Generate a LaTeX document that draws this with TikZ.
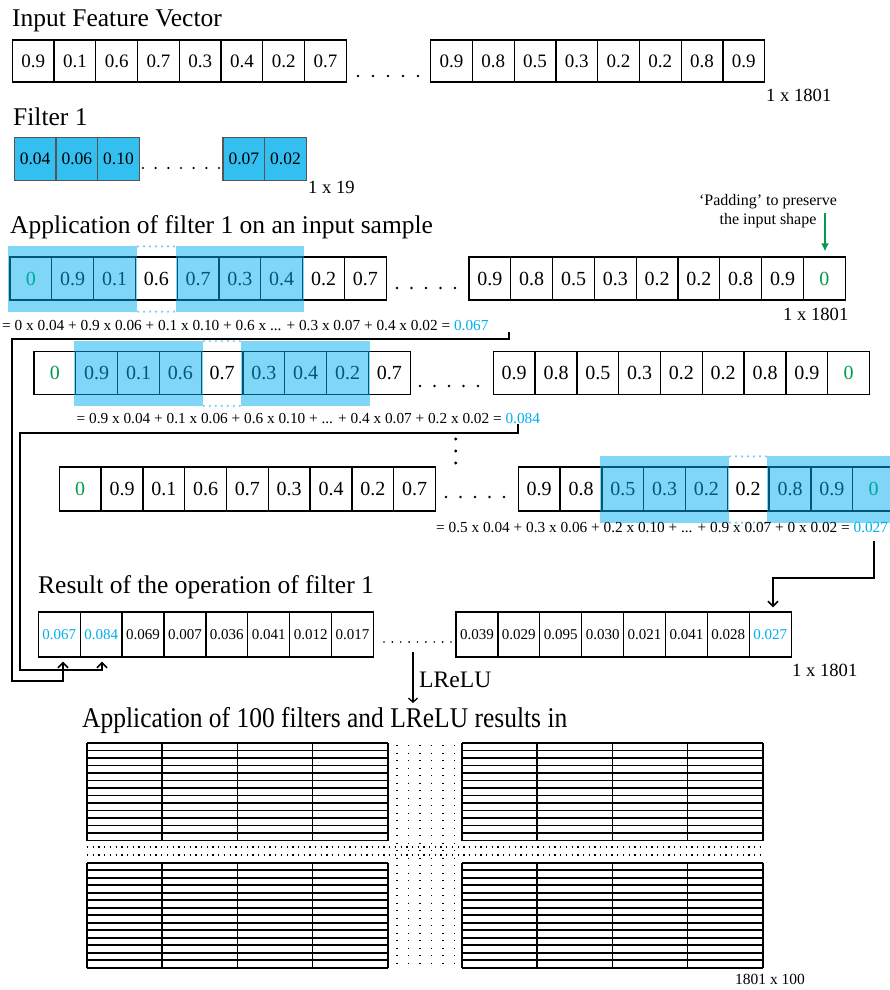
\documentclass[tikz,border=0pt]{standalone}
\usepackage{fontspec}
\setmainfont{Liberation Serif}
\usetikzlibrary{arrows.meta,calc}
\definecolor{cyanfill}{RGB}{51,191,240}
\definecolor{hlfill}{RGB}{0,174,239}
\definecolor{valcyan}{RGB}{0,174,239}
\definecolor{padgreen}{RGB}{0,155,75}
\definecolor{fborder}{RGB}{85,85,85}
\definecolor{hldot}{RGB}{120,205,242}
\newcommand\fsz[1]{\fontsize{#1}{#1}\selectfont}
\newcommand\gz{\textcolor{padgreen}{0}}
\newcommand\cv[1]{\textcolor{valcyan}{#1}}
\newcommand\cellrow[7]{\foreach \v [count=\i] in {#7}{\node[#6, minimum width=#4pt, minimum height=#5pt] (#1\i) at ({#2+(\i-0.5)*#4},#3) {\v};}}
\newcommand\dotrow[5]{\foreach \k in {1,...,#4}{\fill ({#1+(\k-1)*(#2-#1)/(#4-1)},#3) circle (#5pt);}}
\newcommand\hlbox[2]{\fill[hlfill,opacity=0.5] ($(#1.north west)+(-1,-10)$) rectangle ($(#2.south east)+(1,11)$);}
\newcommand\hlgap[2]{\draw[hldots] ($(#1.north east)+(2,-10)$) -- ($(#2.north west)+(-2,-10)$);
  \draw[hldots] ($(#1.south east)+(2,11)$) -- ($(#2.south west)+(-2,11)$);}
\newcommand\gridblock[4]{%
  \foreach \c in {0,...,4}{\draw[gridline] ({#1+\c*75.2},#2) -- ({#1+\c*75.2},{#2+#3*#4});}
  \foreach \r in {0,...,#3}{\draw[gridline] (#1,{#2+\r*#4}) -- ({#1+300.8},{#2+\r*#4});}}
\tikzset{
  cellbase/.style={draw=black, line width=1.3pt, inner sep=0pt},
  cellone/.style={cellbase, font=\fsz{19}},
  cellrun/.style={cellbase, font=\fsz{20}},
  cellres/.style={cellbase, font=\fsz{15}},
  cellfilt/.style={draw=fborder, line width=1.2pt, fill=cyanfill, inner sep=0pt, font=\fsz{17.5}},
  title/.style={anchor=base west, inner sep=0pt, font=\fsz{25.5}},
  dimlabel/.style={anchor=west, inner sep=0pt, font=\fsz{18.6}},
  formula/.style={anchor=west, inner sep=0pt, font=\fsz{15.3}},
  hldots/.style={draw=hldot, line width=2.4pt, line cap=round, dash pattern=on 0pt off 6pt},
  conn/.style={draw=black, line width=2pt, -{Straight Barb[length=5pt,width=10pt,line width=1.6pt]}},
  gridline/.style={draw=black, line width=1.6pt},
}
\begin{document}
\begin{tikzpicture}[x=1pt,y=-1pt]
\clip (0,0) rectangle (890,990);
\fill[white] (0,0) rectangle (890,990);

% ---- Input feature vector
\node[title] (t1) at (12,27) {Input Feature Vector};
\cellrow{il}{12.3}{61}{41.75}{42}{cellone}{0.9,0.1,0.6,0.7,0.3,0.4,0.2,0.7}
\dotrow{358}{418}{76}{5}{1.3}
\cellrow{ir}{430.7}{61}{41.75}{42}{cellone}{0.9,0.8,0.5,0.3,0.2,0.2,0.8,0.9}
\node[dimlabel] (d1) at (766,95) {1 x 1801};

% ---- Filter 1
\node[title] (t2) at (13,125) {Filter 1};
\cellrow{fl}{14.3}{159}{41.7}{43.4}{cellfilt}{0.04,0.06,0.10}
\dotrow{143}{219}{168}{7}{1.2}
\cellrow{fr}{223}{159}{41.7}{43.4}{cellfilt}{0.07,0.02}
\node[dimlabel] (d2) at (308,187) {1 x 19};

% ---- Application of filter 1
\node[title] (t3) at (10,233) {Application of filter 1 on an input sample};
\cellrow{al}{10}{278.5}{41.8}{43}{cellrun}{\gz,0.9,0.1,0.6,0.7,0.3,0.4,0.2,0.7}
\dotrow{397}{455}{288}{5}{1.3}
\cellrow{ar}{469}{278.5}{41.8}{43}{cellrun}{0.9,0.8,0.5,0.3,0.2,0.2,0.8,0.9,\gz}
\hlbox{al1}{al3}\hlbox{al5}{al7}\hlgap{al3}{al5}
\node[dimlabel] (d3) at (783,314) {1 x 1801};
\node[formula] (fA) at (2,326) {= 0 x 0.04 + 0.9 x 0.06 + 0.1 x 0.10 + 0.6 x ... + 0.3 x 0.07 + 0.4 x 0.02 = \cv{0.067}};

% padding note
\node[inner sep=0pt, align=center, font=\fontsize{16}{19}\selectfont] (pad) at (768,211.5) {‘Padding’ to preserve\\the input shape};
\coordinate (pa) at (825,213);
\draw[padgreen, line width=2pt, -{Latex[length=8pt,width=8pt]}, shorten >=5pt] (pa) -- (pa |- ar9.north);

% ---- second position
\cellrow{bl}{34}{373}{41.8}{42.5}{cellrun}{\gz,0.9,0.1,0.6,0.7,0.3,0.4,0.2,0.7}
\dotrow{420}{478}{386}{5}{1.3}
\cellrow{br}{493.3}{373}{41.8}{42.5}{cellrun}{0.9,0.8,0.5,0.3,0.2,0.2,0.8,0.9,\gz}
\hlbox{bl2}{bl4}\hlbox{bl6}{bl8}\hlgap{bl4}{bl6}
\node[formula] (fB) at (76.5,419) {= 0.9 x 0.04 + 0.1 x 0.06 + 0.6 x 0.10 + ... + 0.4 x 0.07 + 0.2 x 0.02 = \cv{0.084}};

% vertical dots
\foreach \yy in {439,451,463}{\fill (455.7,\yy) circle (1.6pt);}

% ---- last position
\cellrow{cl}{59.3}{489}{41.8}{44}{cellrun}{\gz,0.9,0.1,0.6,0.7,0.3,0.4,0.2,0.7}
\dotrow{446}{504}{497}{5}{1.3}
\cellrow{cr}{518.3}{489}{41.8}{44}{cellrun}{0.9,0.8,0.5,0.3,0.2,0.2,0.8,0.9,\gz}
\hlbox{cr3}{cr5}\hlbox{cr7}{cr9}\hlgap{cr5}{cr7}
\node[formula] (fC) at (436,528) {= 0.5 x 0.04 + 0.3 x 0.06 + 0.2 x 0.10 + ... + 0.9 x 0.07 + 0 x 0.02 = \cv{0.027}};

% ---- result
\node[title] (t4) at (38,593) {Result of the operation of filter 1};
\cellrow{rl}{38.3}{634.5}{41.9}{45}{cellres}{\cv{0.067},\cv{0.084},0.069,0.007,0.036,0.041,0.012,0.017}
\dotrow{384}{451}{642}{9}{0.9}
\cellrow{rr}{456}{634.5}{41.9}{45}{cellres}{0.039,0.029,0.095,0.030,0.021,0.041,0.028,\cv{0.027}}
\node[dimlabel] (d4) at (792,670) {1 x 1801};

% ---- connectors
\coordinate (tA) at (509,332);
\coordinate (kA) at (11.5,339);
\coordinate (jA) at (63,681);
\draw[conn, shorten >=4pt] (tA) |- (kA) |- (jA) -- (jA |- rl1.south);
\coordinate (tB) at (518,424);
\coordinate (kB) at (19.5,433);
\coordinate (jB) at (102,670);
\draw[conn, shorten >=4pt] (tB) |- (kB) |- (jB) -- (jB |- rl2.south);
\coordinate (tC) at (874,541);
\coordinate (kC) at (773,578);
\draw[conn, shorten >=4pt] (tC) |- (kC) -- (kC |- rr8.north);

% ---- LReLU
\coordinate (lr1) at (413,652);
\coordinate (lr2) at (413,703);
\draw[line width=1.4pt, -{Straight Barb[length=4pt,width=9pt,line width=1.3pt]}] (lr1) -- (lr2);
\node[anchor=west, inner sep=0pt, font=\fsz{23.6}] (lrelu) at (419,680) {LReLU};

% ---- 100 filters
\node[title] (t5) at (82,727) {\scalebox{1.0}[1.12]{Application of 100 filters and LReLU results in}};
\gridblock{87}{743}{13}{7.5}
\gridblock{462}{743}{13}{7.5}
\gridblock{87}{862.7}{14}{7.5}
\gridblock{462}{862.7}{14}{7.5}
\foreach \xx in {397,408.5,420,431.5,443,454.5}{\draw[line width=1.3pt, dash pattern=on 1.3pt off 6.2pt] (\xx,745) -- (\xx,968);}
\foreach \yy in {847,855}{\draw[line width=1.3pt, dash pattern=on 1.3pt off 4.4pt] (87,\yy) -- (762,\yy);}
\node[anchor=west, inner sep=0pt, font=\fsz{15.5}] (d5) at (735,979) {1801 x 100};
\end{tikzpicture}
\end{document}
